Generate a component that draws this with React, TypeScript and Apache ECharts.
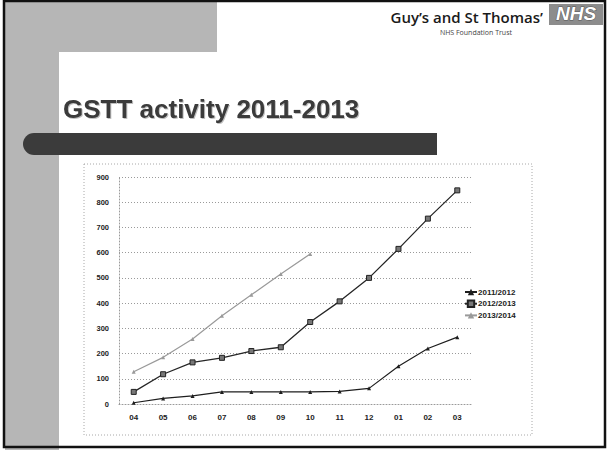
import React, { useEffect, useRef } from "react";
import * as echarts from "echarts";

const months = ["04", "05", "06", "07", "08", "09", "10", "11", "12", "01", "02", "03"];
const seriesNames = ["2011/2012", "2012/2013", "2013/2014"];
const s2011 = [5, 22, 32, 48, 48, 48, 48, 50, 62, 150, 220, 265];
const s2012 = [48, 118, 165, 183, 210, 225, 325, 407, 500, 615, 735, 847];
const s2013: (number | null)[] = [128, 185, 258, 350, 433, 515, 595, null, null, null, null, null];
const yMin = 0;
const yMax = 900;
const yStep = 100;

const title = "GSTT activity 2011-2013";
const orgName = "Guy\u2019s and St Thomas\u2019";
const orgSub = "NHS Foundation Trust";

export default function App() {
  const ref = useRef<HTMLDivElement>(null);
  useEffect(() => {
    document.body.style.margin = "0";
    const chart = echarts.init(ref.current!, null, { renderer: "svg" });
    const dotted = { color: "#9a9a9a", type: [1, 2] as any, width: 1 };
    chart.setOption({
      animation: false,
      backgroundColor: "#ffffff",
      graphic: [
        { type: "rect", z: -10, shape: { x: 5, y: 0, width: 212, height: 52 }, style: { fill: "#b6b6b6" } },
        { type: "rect", z: -10, shape: { x: 5, y: 0, width: 54, height: 450 }, style: { fill: "#b6b6b6" } },
        { type: "rect", z: -9, shape: { x: 59, y: 52, width: 560, height: 400, r: [12, 0, 0, 0] }, style: { fill: "#ffffff" } },
        { type: "rect", z: -8, shape: { x: 23, y: 133, width: 414, height: 22, r: [11, 0, 0, 11] }, style: { fill: "#3b3b3b" } },
        { type: "rect", z: -8, shape: { x: 84, y: 164, width: 448, height: 271 }, style: { fill: "none", stroke: "#a8a8a8", lineWidth: 1, lineDash: [1, 2] } },
        { type: "rect", z: 10, shape: { x: 4, y: 1, width: 601, height: 446 }, style: { fill: "none", stroke: "#111", lineWidth: 2.5 } },
        {
          type: "text", z: 5, x: 63, y: 96,
          style: { text: title, fill: "#3a3a3a", font: "bold 26px 'Liberation Sans', Arial, sans-serif", textShadowColor: "rgba(0,0,0,0.25)", textShadowOffsetX: 1, textShadowOffsetY: 1, textShadowBlur: 1 },
        },
        {
          type: "text", z: 5, x: 543, y: 9,
          style: { text: orgName, fill: "#1a1a1a", font: "600 15px 'Open Sans', sans-serif", align: "right" },
        },
        {
          type: "text", z: 5, x: 512, y: 29,
          style: { text: orgSub, fill: "#444", font: "7px 'Open Sans', sans-serif", align: "right" },
        },
        { type: "rect", z: 5, shape: { x: 549, y: 4, width: 54, height: 21 }, style: { fill: "#8c8c8c" } },
        {
          type: "text", z: 6, x: 576, y: 4,
          style: { text: "NHS", fill: "#ffffff", font: "italic bold 19px 'Liberation Sans', Arial, sans-serif", align: "center", stroke: "#555", lineWidth: 1 },
        },
      ],
      grid: { left: 119, right: 136, top: 177, bottom: 46 },
      legend: {
        orient: "vertical",
        left: 464,
        top: 288,
        padding: 0,
        itemWidth: 12,
        itemHeight: 8,
        itemGap: 3.5,
        data: seriesNames,
        textStyle: { fontSize: 8, fontWeight: "bold", color: "#222", fontFamily: "'Liberation Sans', Arial, sans-serif", lineHeight: 8, padding: [0, 0, 0, -4] },
      },
      xAxis: {
        type: "category",
        data: months,
        boundaryGap: true,
        axisLine: { lineStyle: dotted },
        axisTick: { show: false },
        axisLabel: { margin: 9, fontSize: 8, fontWeight: "bold", color: "#222", fontFamily: "'Liberation Sans', Arial, sans-serif" },
      },
      yAxis: {
        type: "value",
        min: yMin,
        max: yMax,
        interval: yStep,
        axisLine: { show: true, lineStyle: dotted },
        axisTick: { show: false },
        splitLine: { show: true, lineStyle: dotted },
        axisLabel: { margin: 10, fontSize: 7.5, fontWeight: "bold", color: "#222", fontFamily: "'Liberation Sans', Arial, sans-serif" },
      },
      series: [
        {
          name: seriesNames[0], type: "line", data: s2011,
          symbol: "triangle", symbolSize: 4,
          lineStyle: { color: "#1e1e1e", width: 1.2 },
          itemStyle: { color: "#1e1e1e" },
        },
        {
          name: seriesNames[1], type: "line", data: s2012,
          symbol: "rect", symbolSize: 5,
          lineStyle: { color: "#262626", width: 1.3 },
          itemStyle: { color: "#777", borderColor: "#222", borderWidth: 1 },
        },
        {
          name: seriesNames[2], type: "line", data: s2013,
          symbol: "triangle", symbolSize: 4,
          lineStyle: { color: "#9a9a9a", width: 1.2 },
          itemStyle: { color: "#9a9a9a" },
        },
      ],
    });
    return () => chart.dispose();
  }, []);
  return <div ref={ref} style={{ width: 608, height: 450 }} />;
}
